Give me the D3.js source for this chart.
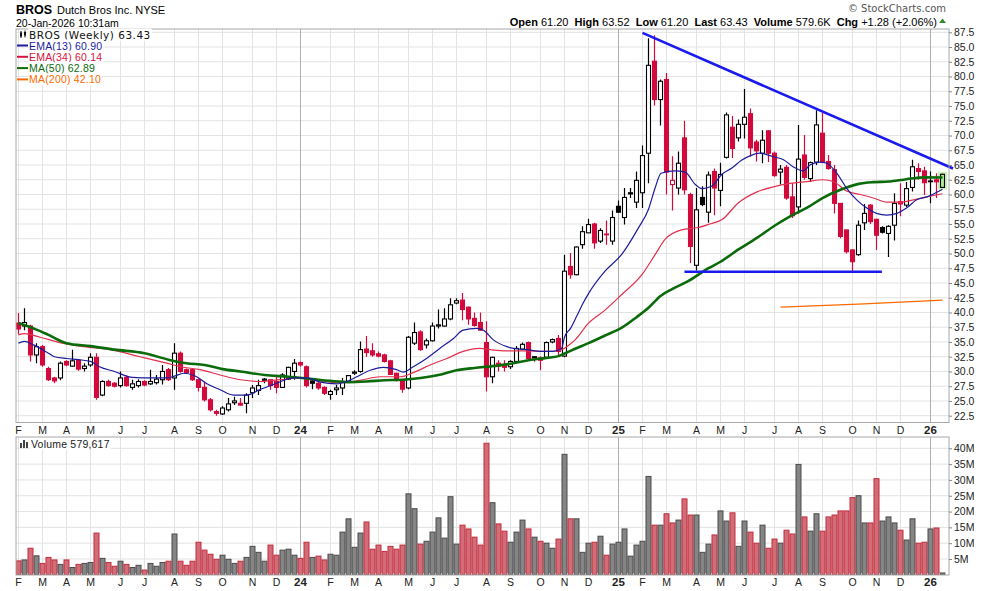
<!DOCTYPE html>
<html>
<head>
  <title>BROS Weekly</title>
  <meta http-equiv="Content-Type" content="text/html; charset=utf-8" />
  <script src="https://d3js.org/d3.v7.min.js"></script>
  <style>
    body { margin: 0; background: white; }
    svg { display: block; }
    text { font-family: "Liberation Sans", Arial, sans-serif; }
  </style>
</head>
<body>
<div id="chart"></div>
<script type="text/javascript">
// weekly bars, first bar is the week of Mon 6 Feb 2023
var firstWeek = new Date(2023, 1, 6);

var opens = [38.2,37.7,37.7,32.8,34.2,30.5,28.9,28.9,31.7,30.9,31.9,30.5,31.1,32.4,26.0,28.3,28.0,27.6,29.0,27.3,
  27.6,28.3,27.9,28.1,28.6,30.3,28.9,33.1,30.3,30.3,28.6,27.3,25.2,23.2,22.8,23.5,24.7,24.6,24.6,26.4,
  26.8,28.5,28.6,28.3,27.3,28.7,30.0,31.5,30.8,28.4,28.0,27.3,26.1,26.9,27.2,28.3,29.7,30.0,33.8,33.5,
  33.0,32.8,31.8,29.7,28.6,27.2,34.8,36.7,34.5,35.2,37.7,37.7,38.9,41.6,42.1,40.9,39.0,38.3,34.9,29.1,
  31.4,31.2,30.8,31.7,33.8,34.9,32.5,32.3,32.4,35.0,35.6,32.6,47.8,46.4,51.5,53.5,55.0,52.1,53.3,52.1,
  58.0,56.1,60.3,58.7,60.3,67.0,82.6,76.1,79.5,61.7,61.1,69.6,60.0,48.0,59.5,57.0,63.9,60.7,66.3,71.4,
  69.6,71.9,73.7,68.9,67.0,70.8,67.0,63.8,64.6,59.6,57.9,66.7,62.7,65.5,70.4,65.6,64.2,58.5,54.0,50.6,
  49.8,55.2,58.2,55.8,54.4,53.4,54.8,58.8,58.2,61.2,64.4,64.0,62.3,62.5,61.2];
var highs = [39.9,40.7,37.9,34.8,34.5,30.8,29.1,31.7,31.9,33.7,32.1,31.4,33.1,33.1,28.5,28.6,28.2,30.0,29.3,28.6,
  28.7,28.5,30.3,29.4,31.1,30.6,34.8,33.4,30.5,30.5,28.8,28.3,25.5,23.5,24.1,25.5,25.7,25.5,26.3,27.7,
  28.6,28.9,28.7,29.1,29.7,30.8,32.1,31.7,31.0,28.6,28.2,27.5,26.9,27.7,28.9,29.4,30.2,35.1,36.0,34.8,
  33.4,33.0,32.0,29.8,28.7,36.0,38.3,37.0,35.6,38.3,40.5,40.7,42.4,42.4,43.3,41.0,40.0,40.0,38.5,32.5,
  31.9,31.9,31.9,34.3,34.9,35.1,32.6,32.6,35.1,35.6,36.2,49.8,50.1,51.2,54.6,55.9,55.2,54.3,55.6,57.3,
  59.0,61.1,61.1,63.9,68.3,86.5,87.0,79.5,80.6,66.5,67.3,72.5,60.3,61.1,61.4,63.9,64.4,65.4,73.9,73.3,
  72.7,77.9,74.6,69.3,70.9,70.9,67.3,65.0,65.0,61.9,71.8,70.1,65.6,74.3,73.8,66.7,65.0,58.5,54.0,50.7,
  55.6,58.4,58.4,55.9,54.6,54.8,60.2,61.9,62.1,65.9,65.3,64.7,63.9,63.6,63.52];
var lows = [36.3,37.0,31.7,31.4,30.8,28.4,28.0,28.5,30.9,30.8,30.1,30.0,30.8,25.2,25.8,27.4,27.3,27.3,27.4,26.9,
  27.3,27.5,27.7,27.8,27.8,28.4,26.9,29.8,29.6,28.4,26.6,24.9,23.2,22.5,22.6,23.2,24.3,24.2,22.9,25.5,
  26.0,28.0,26.9,26.3,27.2,28.6,28.6,30.8,27.3,27.0,26.9,26.0,25.2,26.0,26.0,28.1,29.4,29.8,32.5,32.5,
  32.4,31.5,29.4,28.3,26.4,27.0,34.5,33.5,33.9,35.1,37.3,37.6,38.7,41.4,38.7,37.9,37.6,36.9,26.6,28.0,
  30.0,30.0,30.4,31.5,33.6,31.9,31.7,30.2,32.2,34.8,32.8,32.4,45.7,46.3,50.8,53.5,50.8,51.8,51.5,51.5,
  56.9,54.9,59.4,57.7,57.7,61.9,75.1,71.7,60.0,57.3,60.0,60.0,48.4,47.1,58.0,55.2,56.5,58.0,66.1,66.2,
  69.0,69.5,66.4,65.6,65.3,65.5,63.0,61.7,59.1,56.0,56.8,62.5,62.1,65.0,65.3,64.2,56.8,52.6,50.0,46.9,
  49.6,54.0,55.0,50.6,53.4,49.4,52.2,56.3,57.9,60.5,62.5,59.9,58.5,59.4,61.2];
var closes = [37.2,38.3,32.8,34.2,31.1,28.6,28.4,31.4,31.1,31.8,30.4,30.9,32.4,25.6,28.3,27.6,27.5,28.9,27.6,27.9,
  28.3,27.7,28.3,28.7,30.0,28.6,33.1,30.0,29.8,28.6,27.3,25.2,23.5,22.9,23.8,24.5,25.0,24.3,26.0,27.2,
  27.6,28.7,27.6,27.3,29.4,30.7,31.4,31.1,27.6,28.0,27.2,26.3,26.6,27.2,28.3,29.3,29.9,33.7,33.2,32.8,
  32.6,31.7,29.5,28.6,27.0,35.8,36.6,33.7,35.2,37.7,37.9,38.9,41.3,42.0,40.5,38.9,37.8,37.0,29.1,32.4,
  30.9,30.7,31.7,33.9,34.6,32.2,32.3,31.9,34.9,35.4,33.4,47.0,46.4,51.1,53.7,54.9,51.8,53.9,53.2,56.1,
  57.0,59.5,60.1,62.4,66.6,81.9,76.1,79.2,63.8,62.4,65.3,60.8,51.2,57.4,58.3,63.3,61.1,63.4,73.5,67.8,
  71.9,73.1,67.9,67.4,69.2,67.0,63.2,64.3,59.4,56.4,66.0,62.9,65.4,71.8,65.5,64.4,58.5,52.9,50.3,48.6,
  54.8,56.8,55.4,53.1,53.6,54.6,58.5,58.4,61.0,64.7,63.9,62.0,62.2,62.15,63.43];
// weekly volume, millions of shares
var volumes = [4.4,4.7,8.4,6.0,3.6,5.5,4.7,3.3,4.7,2.3,3.3,3.6,3.9,13.2,5.2,3.9,2.7,4.3,3.3,2.3,
  3.0,1.5,3.6,2.7,3.9,4.3,12.9,4.3,3.0,4.3,10.3,7.8,6.5,4.9,6.2,4.9,3.6,4.3,5.5,9.0,
  7.1,4.3,9.4,6.2,7.8,8.1,6.2,5.2,10.3,5.5,5.9,4.7,6.5,6.2,13.5,17.7,8.7,13.2,16.7,8.1,
  9.4,7.4,9.0,8.1,9.4,25.6,20.9,9.7,10.6,13.5,18.0,11.6,24.7,9.7,15.7,14.5,11.9,9.4,41.6,22.8,
  16.1,13.8,10.3,13.5,17.3,14.5,11.9,10.6,10.0,8.4,11.3,38.1,17.7,17.7,7.1,10.0,10.3,12.2,6.2,9.7,
  10.3,14.5,5.9,9.4,10.6,31.1,15.7,15.7,19.3,16.4,17.3,24.0,18.9,18.9,7.1,9.7,12.6,20.2,17.0,19.6,
  9.0,17.0,13.5,10.0,15.7,8.4,11.3,10.0,14.1,12.9,34.9,18.3,13.8,19.3,13.8,18.3,18.9,20.2,20.2,24.4,
  25.0,16.4,16.4,30.4,17.0,18.3,16.4,14.1,11.0,17.7,10.0,10.3,14.5,14.8,0.58];

// overlay lines: [week index, value]
var ema13Pts = [[0,34.8],[1,35.1],[2.5,34.5],[5,33.1],[6,32.5],[8,32.2],[10,32.0],[12,31.7],[13.5,30.8],[16,30.0],
  [19,29.0],[22,28.9],[24.7,28.9],[26,29.2],[27.5,29.7],[29.7,29.1],[31.4,27.9],[33.6,26.9],[35.8,26.0],[38,26.0],
  [40.2,26.9],[43,28.0],[45.8,28.9],[48,28.9],[50.3,28.2],[53,27.9],[54.7,28.3],[56.4,29.1],[58.6,30.2],[60.8,30.7],
  [63,30.3],[64.1,29.9],[65.8,30.8],[68,32.2],[70.2,33.9],[72.5,35.6],[74.1,37.0],[76.4,37.3],[77.5,37.0],[79.1,35.4],
  [81.4,34.2],[82.5,33.9],[84.7,33.7],[87,33.4],[89.1,33.4],[90.5,33.9],[91,35.8],[92,37.3],[93,39.3],[94,41.4],
  [95,43.2],[97.75,47.0],[100.5,49.8],[103.3,54.3],[105,57.5],[106.1,61.1],[107.1,63.6],[109.4,64.0],[111.1,63.8],[112.8,61.7],
  [113.9,61.0],[115.5,61.4],[117.2,63.4],[118.9,64.5],[120.5,65.8],[122,66.6],[123.6,67.0],[125.8,66.4],[127.5,65.9],[129.1,64.7],
  [130.8,64.0],[131.9,65.0],[133.6,65.5],[134.7,65.3],[136.4,63.6],[138,61.1],[139.7,59.1],[141.4,57.7],[143,56.8],[144.7,56.5],
  [146.4,56.8],[148,57.7],[149.7,59.1],[151.4,59.6],[154,60.9]];
var ema34Pts = [[0,36.2],[1,36.4],[3.6,35.8],[6.9,34.9],[10.8,34.2],[15.25,33.7],[20.25,32.5],[24.7,31.4],[27,30.8],[30.25,30.3],
  [33.6,29.4],[37,28.6],[40.3,28.3],[43.6,28.6],[46.9,28.9],[50.3,28.4],[53.6,28.1],[56.9,28.5],[60.3,29.1],[63.6,29.1],
  [65.8,29.8],[68.6,31.1],[71.4,32.2],[74.1,33.4],[76.9,33.9],[78.6,33.7],[81.4,33.5],[84.7,33.5],[88,33.4],[90.25,33.6],
  [91.9,34.6],[92.8,35.4],[95,38.2],[97.75,40.4],[100.5,43.0],[103.9,46.4],[106.1,49.8],[107.75,52.4],[110.5,54.0],[113.3,54.4],
  [114.9,54.9],[117.2,55.7],[120,58.6],[123,60.4],[125.8,61.3],[128.6,61.9],[131.4,62.2],[134.1,62.5],[135.8,62.2],[138,60.6],
  [140.3,60.0],[142.5,59.4],[144.7,58.7],[146.9,58.7],[149.2,59.1],[151.4,59.6],[154,60.14]];
var ma50Pts = [[0,38.2],[3,37.1],[5,36.2],[8,34.8],[12,34.3],[16,33.7],[21,33.1],[25,32.0],[28,31.4],[31,31.1],
  [34,30.4],[37,30.0],[41,29.4],[45,29.1],[49,28.7],[52,28.4],[55,28.2],[58,28.3],[61,28.5],[64,28.6],
  [67,28.9],[70,29.4],[73,30.2],[76,30.6],[79,30.9],[82,31.3],[85,31.9],[88,32.3],[90,32.6],[92,33.5],
  [95,34.8],[98,36.2],[100.5,37.4],[103,39.2],[105,40.8],[107,42.8],[109,44.0],[111.6,45.3],[115,47.5],[117,48.6],
  [120,50.7],[123,52.6],[126,54.7],[128.6,56.3],[131.5,57.8],[134,59.4],[137,60.8],[140,61.8],[142.5,62.1],[145,62.2],
  [148,62.6],[151,62.9],[154,62.89]];
var ma200Pts = [[127,40.9],[140,41.4],[154,42.1]];

// drawn trendlines: [week index, price]
var resistanceLine = [[104,87.4],[155.75,64.4]];
var supportLine = [[111,46.9],[143.9,46.9]];

var priceTicks = [22.5,25,27.5,30,32.5,35,37.5,40,42.5,45,47.5,50,52.5,55,57.5,60,62.5,65,67.5,70,72.5,75,77.5,80,82.5,85,87.5];
var volTicks = [5,10,15,20,25,30,35,40];
var monthLetters = ["J","F","M","A","M","J","J","A","S","O","N","D"];

// define colors
var upColor = "#000000";
var downColor = "#d20a3c";
var gridColor = "#e3e3e3";
var yearGridColor = "#b0b0b0";
var borderColor = "#a8a8a8";

var W = 990, H = 591;
var panelLeft = 16, panelRight = 949;
var priceTop = 29, priceBottom = 422.5;
var volTop = 437, volBottom = 575;

var svgContainer = d3.select("#chart").append("svg")
  .attr("width", W)
  .attr("height", H);

svgContainer.append("rect").attr("width", W).attr("height", H).style("fill", "white");

// scales
var n = closes.length;
var x = d3.scaleLinear().domain([0, n - 1]).range([18.5, 942.5]);
var yPrice = d3.scaleLinear().domain([22.5, 87.5]).range([415.7, 32.3]);
var yVol = d3.scaleLinear().domain([0, 40]).range([574.8, 448.3]);

var weeks = d3.range(n).map(function(i) {
  return {
    i: i,
    date: d3.timeDay.offset(firstWeek, 7 * i),
    o: opens[i], h: highs[i], l: lows[i], c: closes[i], v: volumes[i],
    prev: i > 0 ? closes[i - 1] : opens[i]
  };
});

// first bar of each month
var monthStarts = weeks.filter(function(d, i) {
  return i === 0 || d.date.getMonth() !== weeks[i - 1].date.getMonth();
});

// clip paths
var defs = svgContainer.append("defs");
defs.append("clipPath").attr("id", "priceClip").append("rect")
  .attr("x", panelLeft).attr("y", priceTop)
  .attr("width", panelRight - panelLeft).attr("height", priceBottom - priceTop);
defs.append("clipPath").attr("id", "volClip").append("rect")
  .attr("x", panelLeft).attr("y", volTop)
  .attr("width", panelRight - panelLeft).attr("height", volBottom - volTop);

//---------------- price panel ----------------
var pricePanel = svgContainer.append("g");

// horizontal grid
pricePanel.selectAll(".hgrid").data(priceTicks).enter().append("line")
  .attr("x1", panelLeft).attr("x2", panelRight)
  .attr("y1", function(d) { return yPrice(d); })
  .attr("y2", function(d) { return yPrice(d); })
  .style("stroke", gridColor);

// vertical month grid
function drawMonthGrid(g, top, bottom) {
  g.selectAll(".vgrid").data(monthStarts).enter().append("line")
    .attr("x1", function(d) { return x(d.i); })
    .attr("x2", function(d) { return x(d.i); })
    .attr("y1", top).attr("y2", bottom)
    .style("stroke", function(d) { return d.date.getMonth() === 0 ? yearGridColor : gridColor; });
}
drawMonthGrid(pricePanel, priceTop, priceBottom);

// moving averages drawn over the candles
var maLine = d3.line()
  .x(function(d) { return x(d[0]); })
  .y(function(d) { return yPrice(d[1]); })
  .curve(d3.curveMonotoneX);

var candleG = pricePanel.append("g").attr("clip-path", "url(#priceClip)");

// highlight behind the last bar
var lastW = weeks[n - 1];
candleG.append("rect")
  .attr("x", x(lastW.i) - 4.5).attr("y", yPrice(lastW.h) - 2)
  .attr("width", 9).attr("height", yPrice(lastW.l) - yPrice(lastW.h) + 4)
  .style("fill", "#c8f3b4");

var candle = candleG.selectAll(".candle").data(weeks).enter().append("g");

candle.append("line")
  .attr("x1", function(d) { return x(d.i); })
  .attr("x2", function(d) { return x(d.i); })
  .attr("y1", function(d) { return yPrice(d.h); })
  .attr("y2", function(d) { return yPrice(d.l); })
  .style("stroke", function(d) { return d.c >= d.prev ? upColor : downColor; })
  .style("stroke-width", 1.2);

candle.append("rect")
  .attr("x", function(d) { return x(d.i) - 2; })
  .attr("width", 4)
  .attr("y", function(d) { return yPrice(Math.max(d.o, d.c)); })
  .attr("height", function(d) { return Math.max(0.8, Math.abs(yPrice(d.o) - yPrice(d.c))); })
  .style("fill", function(d) {
    if (d.i === n - 1) return "#aee89a";
    if (d.c >= d.o) return "white";
    return d.c >= d.prev ? upColor : downColor;
  })
  .style("stroke", function(d) { return d.c >= d.prev ? upColor : downColor; })
  .style("stroke-width", 1.1);

var overlays = [
  { pts: ma200Pts, color: "#ff6a00", width: 1.3 },
  { pts: ema34Pts, color: "#e2304e", width: 1.2 },
  { pts: ma50Pts, color: "#0b6b0b", width: 2.6 },
  { pts: ema13Pts, color: "#1c1c9c", width: 1.2 }
];
overlays.forEach(function(o) {
  candleG.append("path")
    .attr("d", maLine(o.pts))
    .style("fill", "none")
    .style("stroke", o.color)
    .style("stroke-width", o.width);
});

// trendlines
[resistanceLine, supportLine].forEach(function(t) {
  pricePanel.append("line")
    .attr("x1", x(t[0][0])).attr("y1", yPrice(t[0][1]))
    .attr("x2", x(t[1][0])).attr("y2", yPrice(t[1][1]))
    .style("stroke", "#1a1aee")
    .style("stroke-width", 2.6);
});

pricePanel.append("rect")
  .attr("x", panelLeft).attr("y", priceTop)
  .attr("width", panelRight - panelLeft).attr("height", priceBottom - priceTop)
  .style("fill", "none").style("stroke", borderColor);

// right price axis
var priceAxis = svgContainer.append("g")
  .attr("transform", "translate(" + panelRight + ",0)")
  .call(d3.axisRight(yPrice).tickValues(priceTicks).tickFormat(d3.format(".1f")).tickSize(3).tickPadding(2));
priceAxis.select(".domain").remove();
priceAxis.selectAll("line").style("stroke", "#888");
priceAxis.selectAll("text").style("font-size", "10.5px").style("fill", "#222")
  .style("font-family", "'Liberation Sans', Arial, sans-serif");

// month labels under each panel
function drawMonthLabels(yBase) {
  svgContainer.selectAll(null).data(monthStarts).enter().append("text")
    .attr("x", function(d) { return x(d.i); })
    .attr("y", yBase)
    .attr("text-anchor", "middle")
    .style("font-size", function(d) { return d.date.getMonth() === 0 ? "11.5px" : "10.5px"; })
    .style("font-weight", function(d) { return d.date.getMonth() === 0 ? "bold" : "normal"; })
    .style("fill", "#222")
    .text(function(d) {
      return d.date.getMonth() === 0 ? String(d.date.getFullYear()).slice(2) : monthLetters[d.date.getMonth()];
    });
}
drawMonthLabels(434);
drawMonthLabels(585.5);

//---------------- volume panel ----------------
var volPanel = svgContainer.append("g");

volPanel.selectAll(".vhgrid").data(volTicks).enter().append("line")
  .attr("x1", panelLeft).attr("x2", panelRight)
  .attr("y1", function(d) { return yVol(d); })
  .attr("y2", function(d) { return yVol(d); })
  .style("stroke", gridColor);
drawMonthGrid(volPanel, volTop, volBottom);

volPanel.append("g").attr("clip-path", "url(#volClip)")
  .selectAll(".vbar").data(weeks).enter().append("rect")
  .attr("x", function(d) { return x(d.i) - 2.5; })
  .attr("width", 5)
  .attr("y", function(d) { return yVol(d.v); })
  .attr("height", function(d) { return yVol(0) - yVol(d.v); })
  .style("fill", function(d) { return d.c < d.prev || d.i === 0 ? "#d26c77" : "#858585"; })
  .style("stroke", function(d) { return d.c < d.prev || d.i === 0 ? "#c32b3e" : "#4a4a4a"; })
  .style("stroke-width", 1);

// weekly minor ticks on the bottom edge
volPanel.selectAll(".wtick").data(weeks).enter().append("line")
  .attr("x1", function(d) { return x(d.i) + 3; })
  .attr("x2", function(d) { return x(d.i) + 3; })
  .attr("y1", volBottom - 2).attr("y2", volBottom)
  .style("stroke", "#bbb");

volPanel.append("rect")
  .attr("x", panelLeft).attr("y", volTop)
  .attr("width", panelRight - panelLeft).attr("height", volBottom - volTop)
  .style("fill", "none").style("stroke", borderColor);

var volAxis = svgContainer.append("g")
  .attr("transform", "translate(" + panelRight + ",0)")
  .call(d3.axisRight(yVol).tickValues(volTicks).tickFormat(function(d) { return d + "M"; }).tickSize(3).tickPadding(2));
volAxis.select(".domain").remove();
volAxis.selectAll("line").style("stroke", "#888");
volAxis.selectAll("text").style("font-size", "10.5px").style("fill", "#222")
  .style("font-family", "'Liberation Sans', Arial, sans-serif");

//---------------- header and legends ----------------
function addLabel(g, xPos, yPos, txt, size, color, family, spacing) {
  var t = g.append("text")
    .attr("x", xPos).attr("y", yPos)
    .style("font-size", size)
    .style("fill", color)
    .text(txt);
  if (family) t.style("font-family", family);
  if (spacing) t.style("letter-spacing", spacing);
  var bb = t.node().getBBox();
  g.insert("rect", "text")
    .attr("x", bb.x - 1).attr("y", bb.y)
    .attr("width", bb.width + 2).attr("height", bb.height)
    .style("fill", "white");
  return t;
}

svgContainer.append("text").attr("x", 16).attr("y", 13.5)
  .style("font-size", "12.5px").style("font-weight", "bold").text("BROS");
svgContainer.append("text").attr("x", 57).attr("y", 13.5)
  .style("font-size", "11px").text("Dutch Bros Inc. NYSE");
svgContainer.append("text").attr("x", 16).attr("y", 26.5)
  .style("font-size", "10.5px").text("20-Jan-2026 10:31am");

svgContainer.append("text").attr("x", 946).attr("y", 12)
  .attr("text-anchor", "end")
  .style("font-size", "10px").style("fill", "#555")
  .style("font-family", "'DejaVu Sans', Verdana, sans-serif")
  .text("\u00a9 StockCharts.com");

var quote = svgContainer.append("text").attr("x", 937).attr("y", 25.5)
  .attr("text-anchor", "end").style("font-size", "11px");
[["Open", "61.20"], ["High", "63.52"], ["Low", "61.20"], ["Last", "63.43"],
 ["Volume", "579.6K"], ["Chg", "+1.28 (+2.06%)"]].forEach(function(p, k) {
  quote.append("tspan").style("font-weight", "bold").text((k > 0 ? "  " : "") + p[0] + " ");
  quote.append("tspan").text(p[1]);
});
quote.attr("xml:space", "preserve");
svgContainer.append("path")
  .attr("d", "M939,23 L946,23 L942.5,18.5 Z")
  .style("fill", "#2e8b2e");

// price legend
var legendG = svgContainer.append("g");
var legendFont = "'DejaVu Sans', Verdana, sans-serif";
addLabel(legendG, 29, 38.5, "BROS (Weekly) 63.43", "10.5px", "#111", legendFont, "0.5px");
// small candle icon
legendG.append("line").attr("x1", 21).attr("x2", 21).attr("y1", 31).attr("y2", 38).style("stroke", "#111");
legendG.append("rect").attr("x", 20).attr("y", 32.5).attr("width", 2).attr("height", 4).style("fill", "#111");
legendG.append("line").attr("x1", 25).attr("x2", 25).attr("y1", 30.5).attr("y2", 37.5).style("stroke", "#111");
legendG.append("rect").attr("x", 24).attr("y", 32).attr("width", 2).attr("height", 3.5).style("fill", "#111");

var legendItems = [
  { label: "EMA(13) 60.90", color: "#1c1c9c" },
  { label: "EMA(34) 60.14", color: "#d8123e" },
  { label: "MA(50) 62.89", color: "#0b6b0b" },
  { label: "MA(200) 42.10", color: "#ff6a00" }
];
legendItems.forEach(function(item, k) {
  var yb = 49.5 + k * 11.3;
  var g = svgContainer.append("g");
  addLabel(g, 29, yb, item.label, "10.5px", item.color, "'Liberation Sans', Arial, sans-serif", "0.2px");
  g.append("line").attr("x1", 17).attr("x2", 28).attr("y1", yb - 4).attr("y2", yb - 4)
    .style("stroke", item.color).style("stroke-width", 2);
});

// volume legend
var volLegend = svgContainer.append("g");
addLabel(volLegend, 31, 448, "Volume 579,617", "10.5px", "#222", "'Liberation Sans', Arial, sans-serif", "0.2px");
[[20, 5], [23, 8], [26, 6]].forEach(function(b) {
  volLegend.append("rect").attr("x", b[0]).attr("y", 448 - b[1]).attr("width", 2).attr("height", b[1]).style("fill", "#444");
});
</script>
</body>
</html>
